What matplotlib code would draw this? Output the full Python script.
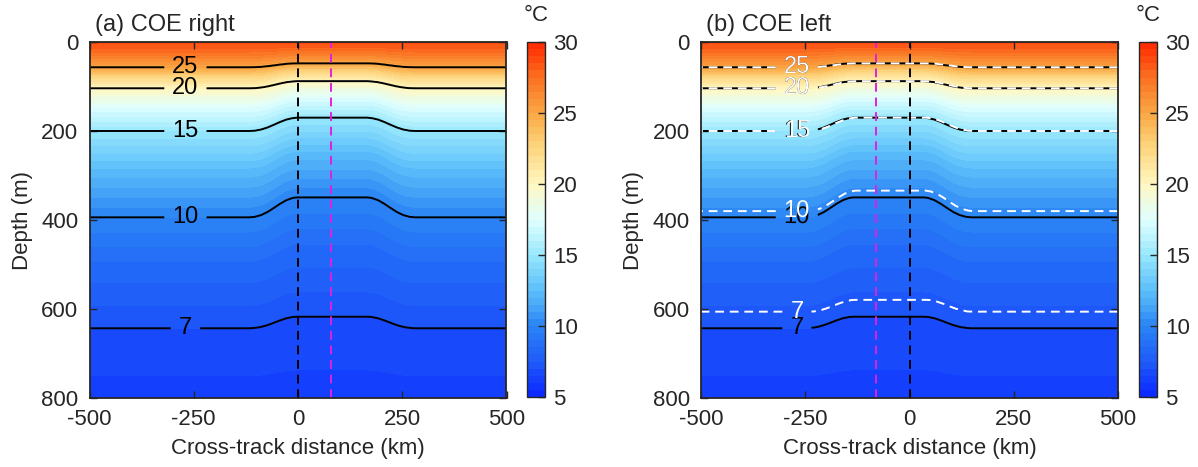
import numpy as np
import matplotlib
matplotlib.use("Agg")
import matplotlib.pyplot as plt
from matplotlib.colors import LinearSegmentedColormap, ListedColormap, BoundaryNorm
from matplotlib.cm import ScalarMappable

plt.rcParams['font.family'] = ['Liberation Sans', 'DejaVu Sans']
plt.rcParams['text.color'] = '#262626'
plt.rcParams['axes.labelcolor'] = '#262626'
plt.rcParams['xtick.color'] = '#262626'
plt.rcParams['ytick.color'] = '#262626'
plt.rcParams['axes.unicode_minus'] = False

# Far-field isotherms: temperature (degC) and depth (m)
iso_temp = [28.6, 28.2, 27.0, 25.0, 22.3, 20.0, 17.3, 15.0, 12.3, 10.0, 8.4, 7.0, 6.5, 6.2, 5.8]
iso_depth = [0, 12, 30, 57, 80, 104, 150, 200, 290, 394, 500, 643, 750, 800, 900]
# Uplift of each isotherm at the eddy core (m)
iso_uplift = [0, 2, 5, 9, 12, 16, 23, 30, 38, 45, 38, 26, 13, 8, 0]

# Second composite shown as dashed white contours in panel (b)
alt_depth = [0, 12, 30, 57, 80, 104, 150, 200, 285, 380, 480, 606, 720, 780, 900]
alt_uplift = [0, 2, 5, 9, 12, 16, 23, 30, 38, 46, 38, 27, 13, 8, 0]

# Cross-track profile of the uplift, as offset from the eddy centre (km)
shape_offset = [-200, -185, -170, -155, -140, -125, -110, -95, -85,
                85, 95, 110, 125, 140, 155, 170, 185, 200]
shape_frac = [0, 0.03, 0.12, 0.27, 0.47, 0.68, 0.86, 0.97, 1,
              1, 0.97, 0.86, 0.68, 0.47, 0.27, 0.12, 0.03, 0]

eddy_center_right = 82
eddy_center_left = -50
track_line = 0
eddy_line = {'right': 80, 'left': -80}

line_levels = [7, 10, 15, 20, 25]
label_x = -270

# Colour scale anchors
cmap_temp = [5, 7.5, 10, 12.5, 15, 17.5, 20, 22.5, 25, 27.5, 30]
cmap_rgb = [(0.04, 0.15, 1.00), (0.12, 0.36, 0.98), (0.17, 0.52, 0.96), (0.36, 0.75, 0.98),
            (0.60, 0.91, 0.99), (0.88, 1.00, 1.00), (1.00, 0.97, 0.76), (0.99, 0.84, 0.50),
            (0.98, 0.66, 0.27), (0.98, 0.44, 0.13), (1.00, 0.16, 0.00)]

bounds = np.arange(5, 30.01, 0.5)
base = LinearSegmentedColormap.from_list(
    'temp', [((t - 5) / 25, c) for t, c in zip(cmap_temp, cmap_rgb)])
mids = (bounds[:-1] + bounds[1:]) / 2
cmap = ListedColormap(base((mids - 5) / 25))
norm = BoundaryNorm(bounds, cmap.N)

x = np.linspace(-500, 500, 501)
z = np.linspace(0, 800, 401)


def section(depths, uplifts, center):
    frac = np.interp(x - center, shape_offset, shape_frac)
    T = np.empty((z.size, x.size))
    d0 = np.asarray(depths, float)
    u0 = np.asarray(uplifts, float)
    for j, f in enumerate(frac):
        T[:, j] = np.interp(z, d0 - u0 * f, iso_temp)
    return T


def label_positions(T):
    col = T[:, 0]
    return [(label_x, float(np.interp(lev, col[::-1], z[::-1]))) for lev in line_levels]


fig = plt.figure(figsize=(11.98, 4.67), dpi=100)
W, H = 1198, 467
panels = [
    dict(ax=(89.5, 42, 417, 356), cb=(527, 42, 17.5, 355), title='(a) COE right',
         center=eddy_center_right, mline=eddy_line['right'], alt=False),
    dict(ax=(701, 42, 417, 356), cb=(1139, 42, 18, 355), title='(b) COE left',
         center=eddy_center_left, mline=eddy_line['left'], alt=True),
]

for p in panels:
    l, t, w, h = p['ax']
    ax = fig.add_axes([l / W, 1 - (t + h) / H, w / W, h / H])
    T = section(iso_depth, iso_uplift, p['center'])
    ax.contourf(x, z, T, levels=bounds, cmap=cmap, norm=norm)
    cs = ax.contour(x, z, T, levels=line_levels, colors='k', linewidths=1.4)
    ax.clabel(cs, fmt='%d', manual=label_positions(T), fontsize=17, inline=True,
              inline_spacing=8)
    if p['alt']:
        Ta = section(alt_depth, alt_uplift, p['center'] + 5)
        csa = ax.contour(x, z, Ta, levels=line_levels, colors='w', linewidths=1.4,
                         linestyles=[(0, (4.5, 3))])
        ax.clabel(csa, fmt='%d', manual=label_positions(Ta), fontsize=17, inline=True,
                  inline_spacing=8, colors='w')
    ax.axvline(track_line, color='k', lw=1.4, ls=(0, (4.5, 3)))
    ax.axvline(p['mline'], color='#e020e0', lw=1.4, ls=(0, (4.5, 3)))

    ax.set_xlim(-500, 500)
    ax.set_ylim(800, 0)
    ax.set_xticks([-500, -250, 0, 250, 500])
    ax.set_yticks([0, 200, 400, 600, 800])
    ax.tick_params(direction='in', top=True, right=True, length=5, width=1.0,
                   labelsize=16, pad=8)
    for s in ax.spines.values():
        s.set_color('#262626')
        s.set_linewidth(1.3)
    ax.set_xlabel('Cross-track distance (km)', fontsize=16, labelpad=6)
    ax.set_ylabel('Depth (m)', fontsize=16, labelpad=6)
    ax.text(0.012, 1.018, p['title'], transform=ax.transAxes, fontsize=17,
            ha='left', va='bottom')

    cl, ct, cw, ch = p['cb']
    cax = fig.add_axes([cl / W, 1 - (ct + ch) / H, cw / W, ch / H])
    sm = ScalarMappable(norm=norm, cmap=cmap)
    cb = fig.colorbar(sm, cax=cax, ticks=[5, 10, 15, 20, 25, 30])
    cb.minorticks_off()
    cb.ax.tick_params(direction='in', length=5, width=1.0, labelsize=16, pad=6)
    cb.outline.set_edgecolor('#262626')
    cb.outline.set_linewidth(1.0)
    cax.text(0.5, 1.045, '°C', transform=cax.transAxes, fontsize=16,
             ha='center', va='bottom')

fig.savefig('out.png', dpi=100)
